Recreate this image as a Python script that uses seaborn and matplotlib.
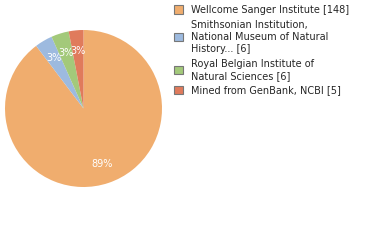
import matplotlib
matplotlib.use("Agg")
import matplotlib.pyplot as plt
import seaborn as sns

sns.set_theme(style="white")
plt.rcParams['font.family'] = ['DejaVu Sans']

labels = ["Wellcome Sanger Institute [148]",
          "Smithsonian Institution,\nNational Museum of Natural\nHistory... [6]",
          "Royal Belgian Institute of\nNatural Sciences [6]",
          "Mined from GenBank, NCBI [5]"]
values = [148, 6, 6, 5]
colors = ["#F0AD6E", "#9DBADF", "#A3C97A", "#E07B5C"]

fig = plt.figure(figsize=(3.8, 2.4), dpi=100)
ax = fig.add_axes([5/380, 1 - 187/240, 157/380, 157/240])
wedges, texts, autotexts = ax.pie(values, colors=colors, startangle=90, counterclock=False,
                                  autopct=lambda p: f"{int(p)}%", pctdistance=0.74,
                                  textprops=dict(color="white", fontsize=7))
ax.set_xlim(-1, 1)
ax.set_ylim(-1, 1)
ax.set_aspect("equal")

for w in wedges:
    w.set_edgecolor("none")

leg = fig.legend(wedges, labels, loc="upper left", bbox_to_anchor=(170/380, 1 - 1/240),
                 frameon=False, fontsize=7, handlelength=0.9, handleheight=0.9,
                 handletextpad=0.9, labelspacing=0.5, borderaxespad=0)
for h in leg.legend_handles:
    h.set_edgecolor("#777777")
    h.set_linewidth(0.8)
for t in leg.get_texts():
    t.set_linespacing(1.25)

fig.savefig("out.png", dpi=100)
